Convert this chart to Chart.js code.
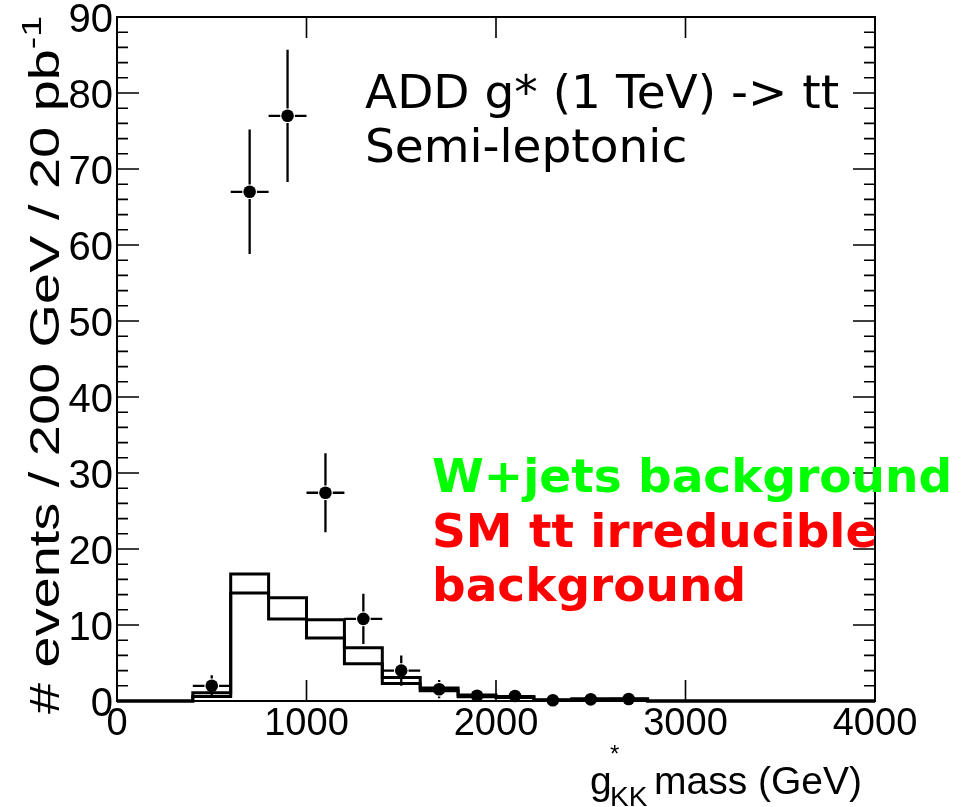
<!DOCTYPE html>
<html><head><meta charset="utf-8">
<script src="https://cdn.jsdelivr.net/npm/chart.js@4.4.1/dist/chart.umd.min.js"></script>
<style>html,body{margin:0;padding:0;background:#fff;}#wrap{width:961px;height:807px;}</style>
</head><body><div id="wrap"><canvas id="c" width="961" height="807"></canvas></div>
<script>
// ---- data ----
const binLowEdges = [0,200,400,600,800,1000,1200,1400,1600,1800,2000,2200,2400,2600,2800,3000,3200,3400,3600,3800];
const binUpEdgeLast = 4000;
const histUpper = [0,0,1.1,16.7,13.6,10.7,7.0,3.1,1.7,0.8,0.6,0.15,0.3,0.3,0,0,0,0,0,0];
const histLower = [0,0,0.6,14.2,10.8,8.3,4.9,2.3,1.35,0.55,0.45,0.1,0.2,0.2,0,0,0,0,0,0];
const dataMass   = [500,700,900,1100,1300,1500,1700,1900,2100,2300,2500,2700];
const dataEvents = [2.0,67.0,77.0,27.4,10.8,4.0,1.55,0.7,0.65,0.1,0.22,0.26];
const dataErrY   = [1.4,8.2,8.7,5.2,3.3,2.0,1.2,0.8,0.8,0.3,0.45,0.5];
const dataErrX   = [100,100,100,100,100,100,100,100,100,100,100,100];
const xTickValues = [0,1000,2000,3000,4000];
const yTickValues = [0,10,20,30,40,50,60,70,80,90];

function histPoints(vals){
  const pts = binLowEdges.map((e,i)=>({x:e,y:vals[i]}));
  pts.push({x:binUpEdgeLast,y:vals[vals.length-1]});
  return pts;
}
const POINT_R = 6.3;

const rootStyle = {
  id:'rootStyle',
  beforeDatasetDraw(chart,args){
    if(args.index!==0) return;
    const ctx=chart.ctx, xs=chart.scales.x, ys=chart.scales.y;
    ctx.save(); ctx.strokeStyle='#000'; ctx.lineWidth=2.3; ctx.lineCap='butt';
    const g=POINT_R+1;
    dataMass.forEach((m,i)=>{
      const v=dataEvents[i], e=dataErrY[i];
      const px=xs.getPixelForValue(m), py=ys.getPixelForValue(v);
      const xl=xs.getPixelForValue(m-dataErrX[i]), xr=xs.getPixelForValue(m+dataErrX[i]);
      const yt=ys.getPixelForValue(v+e), yb=ys.getPixelForValue(Math.max(0,v-e));
      ctx.beginPath();
      ctx.moveTo(xl,py); ctx.lineTo(px-g,py);
      ctx.moveTo(px+g,py); ctx.lineTo(xr,py);
      if(py-yt>g){ctx.moveTo(px,yt);ctx.lineTo(px,py-g);}
      if(yb-py>g){ctx.moveTo(px,py+g);ctx.lineTo(px,yb);}
      ctx.stroke();
    });
    ctx.restore();
  },
  afterDraw(chart){
    const ctx=chart.ctx, xs=chart.scales.x, ys=chart.scales.y, a=chart.chartArea;
    ctx.save();
    // frame
    ctx.strokeStyle='#000'; ctx.lineWidth=2;
    ctx.strokeRect(a.left,a.top,a.right-a.left,a.bottom-a.top);
    // y ticks
    ctx.lineWidth=1.6;
    ctx.beginPath();
    for(let v=0; v<=90; v+=2){
      const py=ys.getPixelForValue(v);
      const L = (v%10===0)?22:11;
      ctx.moveTo(a.left,py); ctx.lineTo(a.left+L,py);
      ctx.moveTo(a.right,py); ctx.lineTo(a.right-L,py);
    }
    // x ticks
    xTickValues.forEach(v=>{
      const px=xs.getPixelForValue(v);
      ctx.moveTo(px,a.bottom); ctx.lineTo(px,a.bottom-21);
      ctx.moveTo(px,a.top); ctx.lineTo(px,a.top+21);
    });
    ctx.stroke();

    // annotation texts
    ctx.fillStyle='#000'; ctx.textAlign='left'; ctx.textBaseline='alphabetic';
    ctx.font='47px "DejaVu Sans"';
    ctx.fillText('ADD g* (1 TeV) -> tt',365,108);
    ctx.fillText('Semi-leptonic',365,162);
    ctx.font='bold 47px "DejaVu Sans"';
    ctx.fillStyle='#00ff00';
    ctx.fillText('W+jets background',432,492);
    ctx.fillStyle='#ff0000';
    ctx.fillText('SM tt irreducible',432,547);
    ctx.fillText('background',432,601);

    // x title
    ctx.fillStyle='#000';
    ctx.font='39px "Liberation Sans"';
    ctx.textAlign='right';
    ctx.fillText(' mass (GeV)',862,794);
    ctx.textAlign='left';
    ctx.fillText('g',590,794);
    ctx.font='24px "Liberation Sans"';
    ctx.fillText('*',610,762);
    ctx.font='28px "Liberation Sans"';
    ctx.fillText('KK',610,806);

    // y title (rotated)
    const base='# events / 200 GeV / 20 pb', sup='-1';
    ctx.font='42px "Liberation Sans"';
    const wb=ctx.measureText(base).width;
    ctx.font='28px "Liberation Sans"';
    const ws=ctx.measureText(sup).width;
    const target=698, s=target/(wb+ws);
    ctx.translate(59,16);
    ctx.rotate(-Math.PI/2);
    ctx.scale(s,1);
    ctx.textAlign='left';
    ctx.font='42px "Liberation Sans"';
    ctx.fillText(base,-(wb+ws),0);
    ctx.font='28px "Liberation Sans"';
    ctx.fillText(sup,-ws,-18);
    ctx.restore();
  }
};

new Chart(document.getElementById('c'),{
  data:{
    datasets:[
      {type:'scatter',label:'data',data:dataMass.map((m,i)=>({x:m,y:dataEvents[i]})),
       pointRadius:POINT_R,pointBackgroundColor:'#000',pointBorderWidth:0,pointHoverRadius:POINT_R,order:0,clip:false},
      {type:'line',label:'upper',data:histPoints(histUpper),stepped:'before',borderColor:'#000',borderWidth:3,
       pointRadius:0,fill:false,order:1,clip:false,borderJoinStyle:'miter'},
      {type:'line',label:'lower',data:histPoints(histLower),stepped:'before',borderColor:'#000',borderWidth:3,
       pointRadius:0,fill:false,order:2,clip:false,borderJoinStyle:'miter'}
    ]
  },
  options:{
    responsive:false,animation:false,devicePixelRatio:1,
    layout:{padding:{top:17,right:86,left:0,bottom:0}},
    plugins:{legend:{display:false},tooltip:{enabled:false},title:{display:false}},
    events:[],
    scales:{
      x:{type:'linear',min:0,max:4000,
         afterBuildTicks(s){s.ticks=xTickValues.map(v=>({value:v}));},
         ticks:{font:{family:'Liberation Sans',size:38},color:'#000',padding:1,maxRotation:0,autoSkip:false,
                callback:(v)=>String(v)},
         grid:{display:false,drawTicks:false},border:{display:false},
         afterFit(s){s.height=106;s.paddingLeft=0;s.paddingRight=0;}},
      y:{type:'linear',min:0,max:90,
         afterBuildTicks(s){s.ticks=yTickValues.map(v=>({value:v}));},
         ticks:{font:{family:'Liberation Sans',size:40},color:'#000',padding:4,labelOffset:4,autoSkip:false,
                callback:(v)=>String(v)},
         grid:{display:false,drawTicks:false},border:{display:false},
         afterFit(s){s.width=117;s.paddingTop=0;s.paddingBottom=0;}}
    }
  },
  plugins:[rootStyle]
});
</script></body></html>
